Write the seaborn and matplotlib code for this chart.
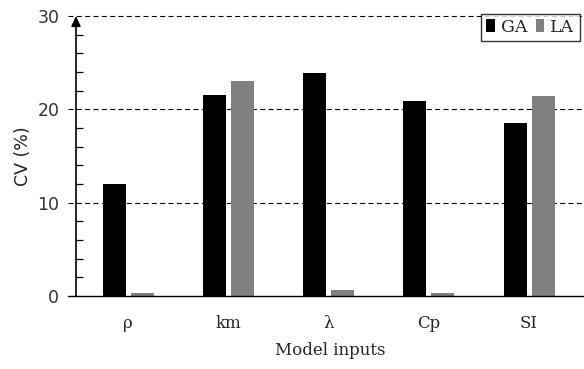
import matplotlib
matplotlib.use("Agg")
import matplotlib.pyplot as plt
import seaborn as sns
import pandas as pd
from matplotlib.patches import Patch

categories = ["ρ", "km", "λ", "Cp", "SI"]
ga_values = [12.0, 21.5, 23.9, 20.9, 18.5]
la_values = [0.3, 23.0, 0.6, 0.3, 21.4]
series = ["GA", "LA"]
colors = ["#000000", "#808080"]
yticks = [0, 10, 20, 30]

df = pd.DataFrame({
    "input": categories * 2,
    "method": ["GA"] * len(categories) + ["LA"] * len(categories),
    "cv": ga_values + la_values,
})

sns.set_style("white")
plt.rcParams["font.family"] = ["DejaVu Sans"]

fig = plt.figure(figsize=(5.84, 3.69), dpi=100)
ax = fig.add_axes([76 / 584, 1 - 296 / 369, 1 - 76 / 584 + 0.002, (296 - 16) / 369])

sns.barplot(data=df, x="input", y="cv", hue="method", palette=colors,
            width=0.56, gap=0.18, saturation=1, ax=ax, legend=False,
            edgecolor="none")

ax.set_xlim(-0.52, 4.56)
ax.set_ylim(0, 30)

# grid lines (dashed) extending slightly left of axis
for y in yticks[1:]:
    ax.axhline(y, xmin=-0.016, xmax=1, color="black", lw=0.8, ls=(0, (4.5, 3)),
               clip_on=False, zorder=0.5)
ax.axhline(0, xmin=-0.016, xmax=1, color="black", lw=1.0, clip_on=False, zorder=3)

for s in ["top", "right", "left", "bottom"]:
    ax.spines[s].set_visible(False)

# y axis with arrow
ax.annotate("", xy=(0, 1.0), xytext=(0, 0), xycoords="axes fraction",
            textcoords="axes fraction",
            arrowprops=dict(arrowstyle="-|>,head_length=0.6,head_width=0.28",
                            color="black", lw=1.2, shrinkA=0, shrinkB=0))

ax.set_yticks(yticks)
ax.set_yticks([v for v in range(2, 30, 2) if v % 10 != 0], minor=True)
ax.tick_params(axis="y", which="major", length=0, pad=12, labelsize=12.5,
               labelcolor="#333333")
ax.tick_params(axis="y", which="minor", direction="in", length=5, width=0.9,
               color="black", left=True)
ax.tick_params(axis="x", length=0, pad=14, labelsize=12)
for lab in ax.get_xticklabels():
    lab.set_family("DejaVu Serif")

ax.set_xlabel("Model inputs", family="DejaVu Serif", fontsize=12, labelpad=7)
ax.set_ylabel("CV (%)", fontsize=12.5, labelpad=4, color="#222222")

handles = [Patch(facecolor=c, edgecolor="none", label=s) for s, c in zip(series, colors)]
leg = fig.legend(handles=handles, loc="upper left", bbox_to_anchor=(472 / 584, 1 - 5 / 369),
                 ncol=2, frameon=True, fancybox=False, handlelength=0.5,
                 handleheight=0.8, handletextpad=0.35, columnspacing=0.5,
                 borderpad=0.3, prop={"family": "DejaVu Serif", "size": 12.5})
leg.get_frame().set_edgecolor("black")
leg.get_frame().set_linewidth(1.0)

fig.savefig("out.png", dpi=100)
